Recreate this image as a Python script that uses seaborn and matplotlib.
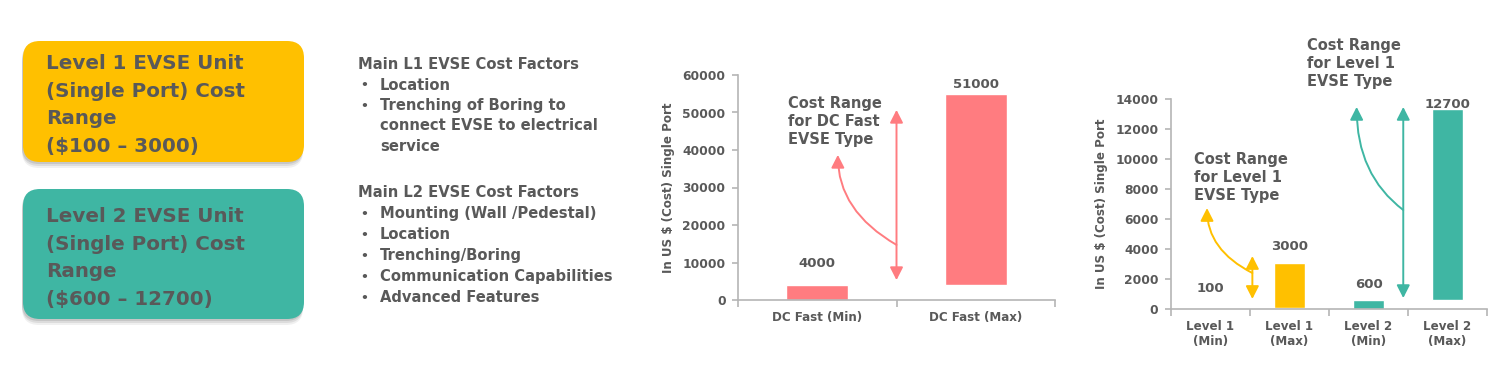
import numpy as np
import pandas as pd
import matplotlib.pyplot as plt
import seaborn as sns
from matplotlib.patches import FancyBboxPatch

# ===================== data =====================
dc_labels = ["DC Fast (Min)", "DC Fast (Max)"]
dc_base = [0, 4000]
dc_cost = [4000, 51000]

lvl_labels = ["Level 1\n(Min)", "Level 1\n(Max)", "Level 2\n(Min)", "Level 2\n(Max)"]
lvl_group = ["Level 1", "Level 1", "Level 2", "Level 2"]
lvl_base = [0, 100, 0, 600]
lvl_cost = [100, 3000, 600, 12700]

dc_ticks = [0, 10000, 20000, 30000, 40000, 50000, 60000]
lvl_ticks = [0, 2000, 4000, 6000, 8000, 10000, 12000, 14000]

box_l1 = ["Level 1 EVSE Unit", "(Single Port) Cost", "Range", "($100 \u2013 3000)"]
box_l2 = ["Level 2 EVSE Unit", "(Single Port) Cost", "Range", "($600 \u2013 12700)"]

l1_title = "Main L1 EVSE Cost Factors"
l1_items = ["Location", "Trenching of Boring to", "connect EVSE to electrical", "service"]
l1_bullet = [True, True, False, False]
l2_title = "Main L2 EVSE Cost Factors"
l2_items = ["Mounting (Wall /Pedestal)", "Location", "Trenching/Boring",
            "Communication Capabilities", "Advanced Features"]

# ===================== style =====================
sns.set_style("ticks")
plt.rcParams['font.family'] = ['DejaVu Sans']
plt.rcParams['font.weight'] = 'bold'

TXT = "#595959"
AXC = "#B5B5B5"
RED = "#FF7C80"
YEL = "#FFC000"
TEAL = "#3FB6A3"

fig = plt.figure(figsize=(15, 3.7), dpi=100)

# background axes in pixel coordinates (for boxes and text blocks)
bg = fig.add_axes([0, 0, 1, 1], zorder=-1)
bg.set_xlim(0, 1500)
bg.set_ylim(370, 0)
bg.axis('off')


def draw_box(y0, h, color, lines, base0):
    for dx, dy, a in [(-1, 6, 0.10), (-1, 4, 0.15), (-1, 2, 0.2)]:
        bg.add_patch(FancyBboxPatch((23 + dx, y0 + dy), 281, h,
                                    boxstyle="round,pad=0,rounding_size=17",
                                    fc="#707070", ec="none", alpha=a))
    bg.add_patch(FancyBboxPatch((23, y0), 281, h,
                                boxstyle="round,pad=0,rounding_size=17",
                                fc=color, ec="none"))
    for i, s in enumerate(lines):
        bg.text(46, base0 + i * 27.7, s, fontsize=14.3, fontweight='bold',
                color=TXT, va='baseline', ha='left')


draw_box(41, 121, YEL, box_l1, 69)
draw_box(189, 130, TEAL, box_l2, 222)


def draw_list(title, items, bullets, base0, step):
    bg.text(358, base0, title, fontsize=10.6, fontweight='bold', color=TXT, va='baseline')
    for i, s in enumerate(items):
        y = base0 + (i + 1) * step
        if bullets[i]:
            bg.text(360, y, "\u2022", fontsize=9, color=TXT, va='baseline')
        bg.text(380, y, s, fontsize=10.6, fontweight='bold', color=TXT, va='baseline')


draw_list(l1_title, l1_items, l1_bullet, 69, 20.5)
draw_list(l2_title, l2_items, [True] * len(l2_items), 197, 21)


def style_axis(ax, ticks):
    sns.despine(ax=ax)
    ax.set_facecolor('none')
    for sp in ['left', 'bottom']:
        ax.spines[sp].set_color(AXC)
        ax.spines[sp].set_linewidth(1.2)
    ax.set_yticks(ticks)
    ax.set_ylim(ticks[0], ticks[-1])
    ax.tick_params(axis='y', length=4, width=1.2, color=AXC, labelsize=8.8,
                   labelcolor=TXT, pad=5)
    n = len(ax.get_xticks())
    ax.set_xticks(np.arange(-0.5, n, 1.0), minor=True)
    ax.set_xlim(-0.5, n - 0.5)
    ax.tick_params(axis='x', which='major', length=0, labelsize=8.6,
                   labelcolor=TXT, pad=8)
    ax.tick_params(axis='x', which='minor', length=5, width=1.2, color=AXC)
    for lab in ax.get_xticklabels() + ax.get_yticklabels():
        lab.set_fontweight('bold')
    ax.set_xlabel("")
    ax.set_ylabel("In US $ (Cost) Single Port", fontsize=8.6, fontweight='bold', color=TXT)
    ax.yaxis.set_label_coords(-0.199, 0.5)


def value_labels(ax, values, bases, pads):
    for i, (v, b, p) in enumerate(zip(values, bases, pads)):
        ax.annotate(f"{v}", (i, v + b), xytext=(0, p), textcoords='offset pixels',
                    ha='center', va='baseline', fontsize=9.5, fontweight='bold', color=TXT)


def range_arrow(ax, x, y0, y1, ys, xe, ye, angA, color):
    ax.annotate("", xy=(x, y1), xytext=(x, y0),
                arrowprops=dict(arrowstyle="<|-|>,head_length=0.55,head_width=0.28",
                                color=color, lw=1.4, shrinkA=0, shrinkB=0,
                                mutation_scale=14))
    ax.annotate("", xy=(xe, ye), xytext=(x, ys),
                arrowprops=dict(arrowstyle="-|>,head_length=0.55,head_width=0.28",
                                color=color, lw=1.4, shrinkA=0, shrinkB=0,
                                mutation_scale=14,
                                connectionstyle=f"angle3,angleA={angA},angleB=90"))


def range_text(ax, x, y_last, s):
    # y_last is the baseline of the last line
    ax.text(x, y_last, s, fontsize=10.5, fontweight='bold', color=TXT,
            va='baseline', ha='left', linespacing=1.25)


# ===================== DC fast chart =====================
ax1 = fig.add_axes([738 / 1500, 70 / 370, 317 / 1500, 225 / 370])
df_dc = pd.DataFrame({"type": dc_labels, "cost": dc_cost, "base": dc_base})
sns.barplot(data=df_dc, x="type", y="cost", bottom=df_dc["base"], color=RED,
            saturation=1, width=0.39, errorbar=None, ax=ax1)
style_axis(ax1, dc_ticks)
value_labels(ax1, dc_cost, dc_base, [18, 6])
range_arrow(ax1, 0.5, 5300, 50700, 14700, 0.13, 38700, 150, RED)
range_text(ax1, -0.185, 41500, "Cost Range\nfor DC Fast\nEVSE Type")

# ===================== Level 1 / Level 2 chart =====================
ax2 = fig.add_axes([1171 / 1500, 61 / 370, 316 / 1500, 210 / 370])
df_lv = pd.DataFrame({"type": lvl_labels, "cost": lvl_cost, "base": lvl_base,
                      "group": lvl_group})
sns.barplot(data=df_lv, x="type", y="cost", bottom=df_lv["base"], color=YEL,
            saturation=1, width=0.4, errorbar=None, ax=ax2)
pal = {"Level 1": YEL, "Level 2": TEAL}
for patch, g in zip(ax2.patches, lvl_group):
    patch.set_facecolor(pal[g])
style_axis(ax2, lvl_ticks)
value_labels(ax2, lvl_cost, lvl_base, [16, 12, 12, 2])
range_arrow(ax2, 0.53, 670, 3530, 2400, -0.044, 6730, 153, YEL)
range_arrow(ax2, 2.44, 730, 13470, 6600, 1.85, 13470, 143, TEAL)
range_text(ax2, -0.209, 7270, "Cost Range\nfor Level 1\nEVSE Type")
range_text(ax2, 1.22, 14870, "Cost Range\nfor Level 1\nEVSE Type")

fig.savefig("out.png", dpi=100)
